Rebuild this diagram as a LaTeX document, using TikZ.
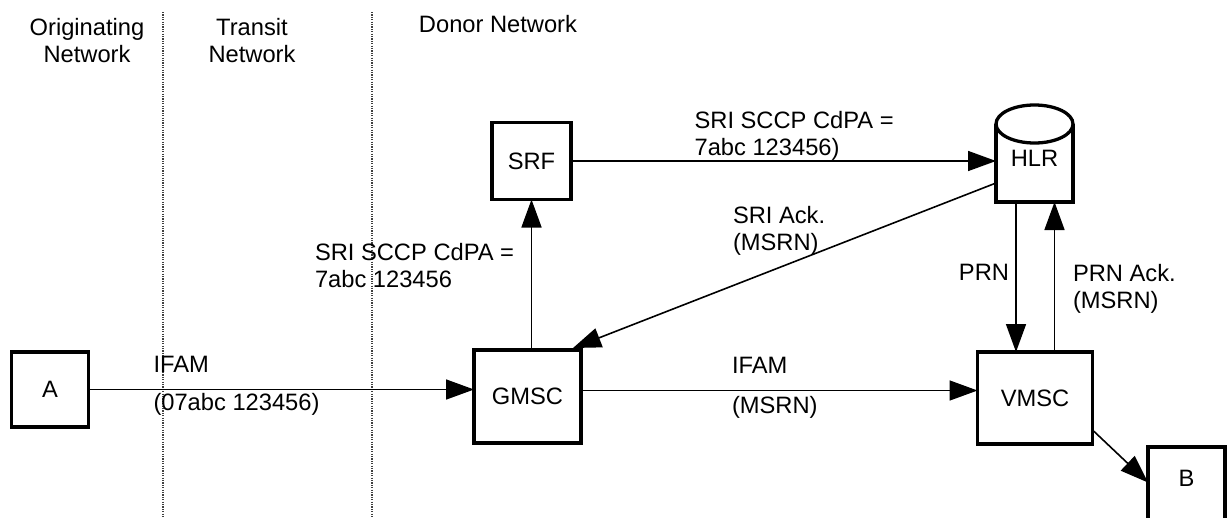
\documentclass[tikz,border=0pt]{standalone}
\usepackage{fontspec}
\setmainfont{Liberation Sans}
\usetikzlibrary{arrows.meta}
\begin{document}
\begin{tikzpicture}[x=1pt,y=-1pt,
  every node/.style={font=\fontsize{23.7}{27}\selectfont, inner sep=0pt, outer sep=0pt},
  box/.style={draw, line width=3.3pt},
  arr/.style={line width=1.6pt, -{Triangle[length=28pt,width=20pt]}},
  divider/.style={line width=1.2pt, dash pattern=on 1.2pt off 1.2pt, black!75},
  lbl/.style={anchor=base west, align=left},
  lblr/.style={anchor=base east, align=right},
  head/.style={anchor=base, align=center}]
\useasboundingbox (0,0) rectangle (1230,517);
\clip (0,0) rectangle (1230,517);
\fill[white] (0,0) rectangle (1230,517);

% network dividers
\coordinate (d1t) at (163,12);
\coordinate (d1b) at (163,517);
\coordinate (d2t) at (372,12);
\coordinate (d2b) at (372,517);
\draw[divider] (d1t) -- (d1b);
\draw[divider] (d2t) -- (d2b);

% headings (base = last line's baseline)
\node[head] (hOrig) at (87,62) {Originating\\Network};
\node[head] (hTrans) at (252,62) {Transit\\Network};
\node[head] (hDonor) at (498,32) {Donor Network};

% boxes
\node[box, minimum width=77pt, minimum height=75pt] (A) at (50,389.5) {A};
\node[box, minimum width=79pt, minimum height=77pt] (SRF) at (531.5,161) {SRF};
\node[box, minimum width=107pt, minimum height=93pt] (GMSC) at (527.5,396.5) {GMSC};
\node[box, minimum width=115pt, minimum height=92pt] (VMSC) at (1035,398) {VMSC};
\node[box, minimum width=77pt, minimum height=77pt, text height=10pt, text depth=8pt] (B) at (1186.5,485.5) {B};

% HLR database cylinder
\node[minimum width=77pt, minimum height=88pt] (HLR) at (1034.5,158) {HLR};
\draw[line width=3.3pt] ([yshift=-10pt]HLR.north west) -- (HLR.south west) -- (HLR.south east) -- ([yshift=-10pt]HLR.north east);
\draw[line width=3.3pt, fill=white] ([yshift=-10pt]HLR.north) ellipse [x radius=38.5pt, y radius=19pt];

% connectors
\draw[arr] (SRF.east) -- (SRF.east -| HLR.west);
\node[lbl] (lSRI1) at (694.6,155) {SRI SCCP CdPA =\\7abc 123456)};

\draw[arr] (GMSC.north -| SRF.south) -- (SRF.south);
\node[lbl] (lSRI2) at (315,287) {SRI SCCP CdPA =\\7abc 123456};

\draw[arr] ([yshift=-25pt]HLR.west) -- ([xshift=-8pt,yshift=2pt]GMSC.north east);
\node[lbl] (lAck) at (733,250) {SRI Ack.\\(MSRN)};

\draw[arr] ([xshift=-18.5pt]HLR.south) -- ([xshift=-18.5pt]HLR.south |- VMSC.north);
\node[lblr] (lPRN) at (1009,280) {PRN};

\draw[arr] ([xshift=19.5pt]VMSC.north) -- ([xshift=19.5pt]VMSC.north |- HLR.south);
\node[lbl] (lPRNAck) at (1073,308) {PRN Ack.\\(MSRN)};

\draw[arr] (A.east) -- (A.east -| GMSC.west);
\node[lbl] (lIFAM1) at (153.5,372) {IFAM};
\node[lbl] (lNum1) at (153.5,410) {(07abc 123456)};

\draw[arr] ([yshift=6pt]GMSC.east) -- ([yshift=6pt]GMSC.east -| VMSC.west);
\node[lbl] (lIFAM2) at (732,373) {IFAM};
\node[lbl] (lMSRN) at (732,413) {(MSRN)};

\draw[arr] ([yshift=14pt]VMSC.south east) -- ([yshift=3pt]B.west);
\end{tikzpicture}
\end{document}
